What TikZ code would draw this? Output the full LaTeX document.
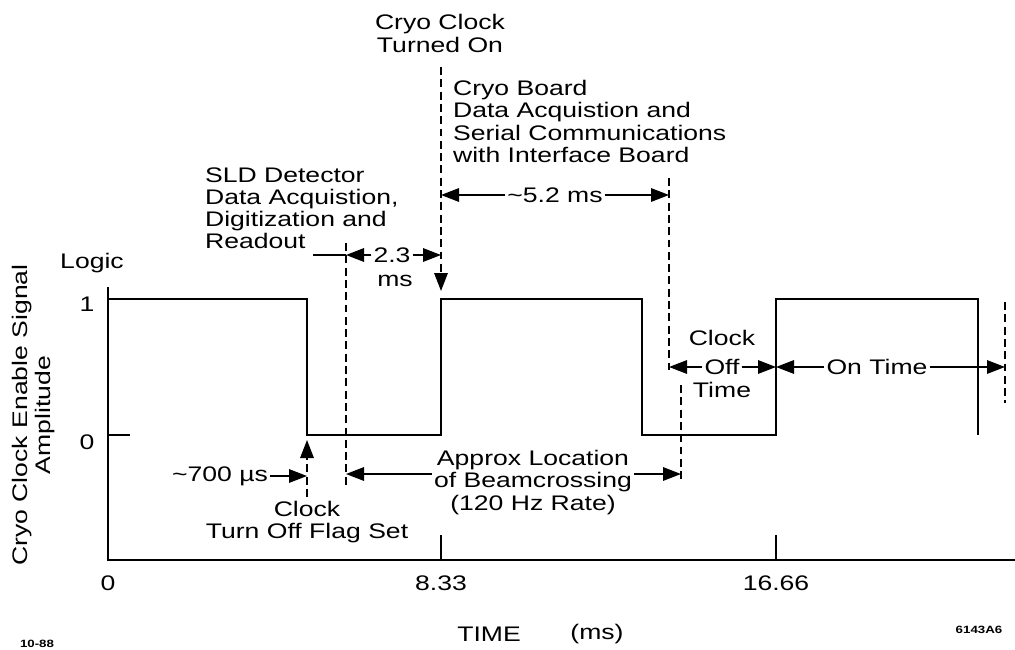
\documentclass[tikz,border=0pt]{standalone}
\usepackage{fontspec}
\setmainfont{Liberation Sans}[FakeStretch=1.26]
\usetikzlibrary{arrows.meta, positioning}

\begin{document}
\begin{tikzpicture}[
  lbl/.style={font=\fontsize{12}{12.6}\selectfont, inner sep=1pt},
  tinylbl/.style={font=\fontsize{6}{7}\selectfont\bfseries, inner sep=0pt},
  axisline/.style={line width=1.3pt},
  signal/.style={line width=1.6pt},
  tickline/.style={line width=1pt},
  guide/.style={line width=1.1pt, dash pattern=on 4.5pt off 2.5pt},
  dimarrow/.style={-{Triangle[length=3.6mm, width=2.7mm]}, line width=0.9pt}
]
\useasboundingbox (-2.16,-1.78) rectangle (18.14,11.2);

%  : -- Axes, ticks and levels  : --
\coordinate (org) at (0,0);
\coordinate (ytop) at (0,5.46);
\coordinate (xend) at (18.14,0);
\draw[axisline] (ytop) -- (org) -- (xend);
\draw[tickline] (0,2.5) -- (0.44,2.5);
\foreach \x/\t in {0/0, 6.66/8.33, 13.36/16.66} {
  \node[lbl] at (\x,-0.46) {\t};
}
\foreach \x in {6.66, 13.36} {
  \draw[tickline] (\x,0) -- (\x,0.5);
}
\node[lbl] (logic) at (-0.32,5.94) {Logic};
\node[lbl] (one) at (-0.42,5.12) {1};
\node[lbl] (zero) at (-0.42,2.36) {0};
\node[lbl, rotate=90, align=center] (ytitle) at (-1.49,2.9) {Cryo Clock Enable Signal\\Amplitude};

%  : -- Clock enable signal  : --
\draw[signal] (0,5.22) -- (3.98,5.22) -- (3.98,2.5) -- (6.66,2.5) -- (6.66,5.22)
  -- (10.68,5.22) -- (10.68,2.5) -- (13.36,2.5) -- (13.36,5.22) -- (17.4,5.22) -- (17.4,2.5);
\coordinate (rise2) at (13.36,2.5);

%  : -- Clock turned on  : --
\node[lbl, align=center] (turnon) at (6.64,10.53) {Cryo Clock\\Turned On};
\coordinate (ontop) at (6.66,9.86);
\coordinate (onedge) at (6.66,5.38);
\draw[guide, dimarrow] (ontop) -- (onedge);

%  : -- Cryo board window  : --
\node[lbl, align=left, anchor=west] (board) at (6.86,8.77) {Cryo Board\\Data Acquistion and\\Serial Communications\\with Interface Board};
\coordinate (bdtop) at (11.22,7.64);
\coordinate (bdbot) at (11.22,3.74);
\draw[guide] (bdtop) -- (bdbot);
\node[lbl] (fivetwo) at (8.94,7.3) {\textasciitilde 5.2 ms};
\draw[dimarrow] (fivetwo.west) -- (fivetwo.west -| ontop);
\draw[dimarrow] (fivetwo.east) -- (fivetwo.east -| bdtop);

%  : -- SLD readout window  : --
\node[lbl, align=left, anchor=west] (sld) at (1.9,7.03) {SLD Detector\\Data Acquistion,\\Digitization and\\Readout};
\coordinate (bxtop) at (4.76,6.34);
\coordinate (bxbot) at (4.76,1.5);
\draw[guide] (bxtop) -- (bxbot);
\coordinate (readend) at (4.1,6.1);
\draw[line width=0.9pt] (readend) -- (readend -| bxtop);
\node[lbl] (twothree) at (5.68,6.1) {2.3};
\node[lbl] (twoms) at (5.74,5.58) {ms};
\draw[dimarrow] (twothree.west) -- (twothree.west -| bxtop);
\draw[dimarrow] (twothree.east) -- (twothree.east -| ontop);

%  : -- Turn off flag  : --
\node[lbl] (sevenhundred) at (2.24,1.68) {\textasciitilde 700 µs};
\coordinate (flagedge) at (3.98,2.4);
\coordinate (flagbot) at (3.98,1.26);
\draw[dimarrow] (sevenhundred.east) -- (sevenhundred.east -| flagedge);
\draw[guide, dimarrow] (flagbot) -- (flagedge);
\node[lbl, align=center] (flagset) at (3.98,0.76) {Clock\\Turn Off Flag Set};

%  : -- Beamcrossing  : --
\node[lbl, align=center] (approx) at (8.5,1.55) {Approx Location\\of Beamcrossing\\(120 Hz Rate)};
\coordinate (ctop) at (11.46,3.5);
\coordinate (cbot) at (11.46,1.54);
\draw[guide] (ctop) -- (cbot);
\coordinate (apl) at ([yshift=1.7mm]approx.west);
\coordinate (apr) at ([yshift=1.7mm]approx.east);
\draw[dimarrow] (apl) -- (apl -| bxtop);
\draw[dimarrow] (apr) -- (apr -| ctop);

%  : -- Off time / on time  : --
\node[lbl] (off) at (12.28,3.86) {Off};
\node[lbl, above=0.18cm of off] (clockoff) {Clock};
\node[lbl, below=0.06cm of off] (offtime) {Time};
\draw[dimarrow] (off.west) -- (off.west -| bdtop);
\draw[dimarrow] (off.east) -- (off.east -| rise2);
\node[lbl] (ontime) at (15.38,3.86) {On Time};
\coordinate (endtop) at (17.94,5.16);
\coordinate (endbot) at (17.94,3.14);
\draw[guide] (endtop) -- (endbot);
\draw[dimarrow] (ontime.west) -- (ontime.west -| rise2);
\draw[dimarrow] (ontime.east) -- (ontime.east -| endtop);

%  : -- Axis title and tags  : --
\node[lbl] (timelbl) at (7.62,-1.48) {TIME};
\node[lbl] (mslbl) at (9.78,-1.48) {(ms)};
\node[tinylbl] (date) at (-1.42,-1.68) {10-88};
\node[tinylbl] (fignum) at (17.42,-1.4) {6143A6};

\end{tikzpicture}
\end{document}
